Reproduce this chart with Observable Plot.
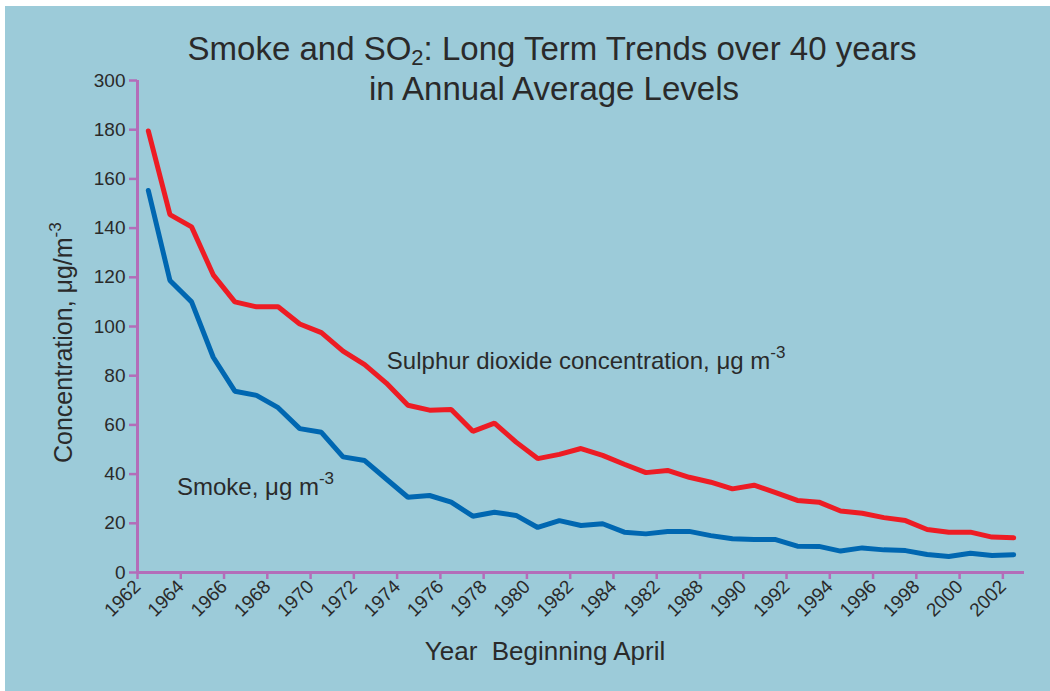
<!DOCTYPE html>
<html><head><meta charset="utf-8">
<script src="https://cdn.jsdelivr.net/npm/d3@7"></script>
<script src="https://cdn.jsdelivr.net/npm/@observablehq/plot@0.6"></script>
<style>
html,body{margin:0;padding:0;background:#fff;}
#wrap{position:relative;width:1050px;height:691px;overflow:hidden;}
#panel{position:absolute;left:5px;top:6px;right:0;bottom:0;background:#9ccbd9;}
#chart{position:absolute;left:0;top:0;}
</style></head><body>
<div id="wrap"><div id="panel"></div><div id="chart"></div></div>
<script>
// ---- data ----
const years = [1962.5,1963.5,1964.5,1965.5,1966.5,1967.5,1968.5,1969.5,1970.5,1971.5,
  1972.5,1973.5,1974.5,1975.5,1976.5,1977.5,1978.5,1979.5,1980.5,1981.5,
  1982.5,1983.5,1984.5,1985.5,1986.5,1987.5,1988.5,1989.5,1990.5,1991.5,
  1992.5,1993.5,1994.5,1995.5,1996.5,1997.5,1998.5,1999.5,2000.5,2001.5,2002.5];
const so2 = [179.5,145.5,140.5,121,110,108,108,101,97.5,90,
  84.5,77,68,66,66.3,57.4,60.7,53,46.3,48,
  50.4,47.6,44,40.6,41.5,38.7,36.7,34,35.5,32.5,
  29.3,28.6,25,24.1,22.3,21.1,17.5,16.4,16.4,14.4,14.1];
const smoke = [155.3,118.7,110,87.5,73.7,72,67,58.5,57,47,
  45.5,38,30.6,31.3,28.6,22.9,24.5,23.2,18.3,21.1,
  19.1,19.8,16.4,15.7,16.7,16.7,15,13.7,13.4,13.4,
  10.7,10.6,8.7,10,9.2,8.9,7.3,6.5,7.8,6.9,7.2];
const xTicks = [1962,1964,1966,1968,1970,1972,1974,1976,1978,1980,1982,1984,1986,1988,1990,1992,1994,1996,1998,2000,2002];
const xTickLabels = ["1962","1964","1966","1968","1970","1972","1974","1976","1978","1980","1982","1984","1982","1988","1990","1992","1994","1996","1998","2000","2002"];
const yTicks = [0,20,40,60,80,100,120,140,160,180,200];
const yTickLabels = ["0","20","40","60","80","100","120","140","160","180","300"];
const annLabels = ["Sulphur dioxide concentration, μg m", "Smoke, μg m"];
const annSup = ["-3", "-3"];
const annX = [1973.55, 1963.85];
const annY = [82.5, 31.3];

// ---- style ----
const FONT = "'Liberation Sans', Arial, Helvetica, sans-serif";
const PURPLE = "#b36db9", RED = "#ed1c24", BLUE = "#0067b1", TXT = "#2a2a2a";

const data = years.map((y, i) => ({year: y, so2: so2[i], smoke: smoke[i]}));

const plot = Plot.plot({
  width: 1050, height: 691,
  marginLeft: 137, marginRight: 26, marginTop: 80, marginBottom: 119,
  style: {background: "transparent", fontFamily: FONT, fontSize: "19px", color: TXT, overflow: "visible"},
  x: {domain: [1962, 2003]},
  y: {domain: [0, 200]},
  marks: [
    Plot.axisY({ticks: yTicks, tickFormat: d => yTickLabels[yTicks.indexOf(d)], tickSize: 8, tickPadding: 4,
      stroke: PURPLE, strokeWidth: 2.5, fill: TXT, fontSize: 19, label: null}),
    Plot.axisX({ticks: xTicks, tickFormat: d => xTickLabels[xTicks.indexOf(d)], tickSize: 7, tickPadding: 4,
      tickRotate: -45, stroke: PURPLE, strokeWidth: 2.5, fill: TXT, fontSize: 19, label: null}),
    Plot.ruleX([1962], {stroke: PURPLE, strokeWidth: 3}),
    Plot.ruleY([0], {stroke: PURPLE, strokeWidth: 3}),
    Plot.line(data, {x: "year", y: "so2", stroke: RED, strokeWidth: 5, strokeLinejoin: "miter"}),
    Plot.line(data, {x: "year", y: "smoke", stroke: BLUE, strokeWidth: 5, strokeLinejoin: "miter"})
  ]
});
document.getElementById("chart").appendChild(plot);

const svg = d3.select(plot);
const sx = plot.scale("x"), sy = plot.scale("y");

// title
const t1 = svg.append("text").attr("x", 552).attr("y", 60).attr("text-anchor", "middle")
  .attr("fill", TXT).style("font-family", FONT).style("font-size", "33px");
t1.append("tspan").text("Smoke and SO");
t1.append("tspan").attr("dy", 5).style("font-size", "22px").text("2");
t1.append("tspan").attr("dy", -5).text(": Long Term Trends over 40 years");
svg.append("text").attr("x", 554).attr("y", 100).attr("text-anchor", "middle")
  .attr("fill", TXT).style("font-family", FONT).style("font-size", "33px")
  .text("in Annual Average Levels");

// y-axis label
const yl = svg.append("text").attr("transform", "translate(72,463) rotate(-90)").attr("text-anchor", "start")
  .attr("fill", TXT).style("font-family", FONT).style("font-size", "25px");
yl.append("tspan").text("Concentration, μg/m");
yl.append("tspan").attr("dy", -11).style("font-size", "17px").text("-3");

// x-axis label
svg.append("text").attr("x", 545).attr("y", 660).attr("text-anchor", "middle")
  .attr("fill", TXT).style("font-family", FONT).style("font-size", "26px").style("white-space", "pre")
  .text("Year  Beginning April");

// annotations
annLabels.forEach((lab, i) => {
  const t = svg.append("text").attr("x", sx.apply(annX[i])).attr("y", sy.apply(annY[i]))
    .attr("text-anchor", "start")
    .attr("fill", TXT).style("font-family", FONT).style("font-size", "24px");
  t.append("tspan").text(lab);
  t.append("tspan").attr("dy", -11).style("font-size", "17px").text(annSup[i]);
});
</script>
</body></html>
